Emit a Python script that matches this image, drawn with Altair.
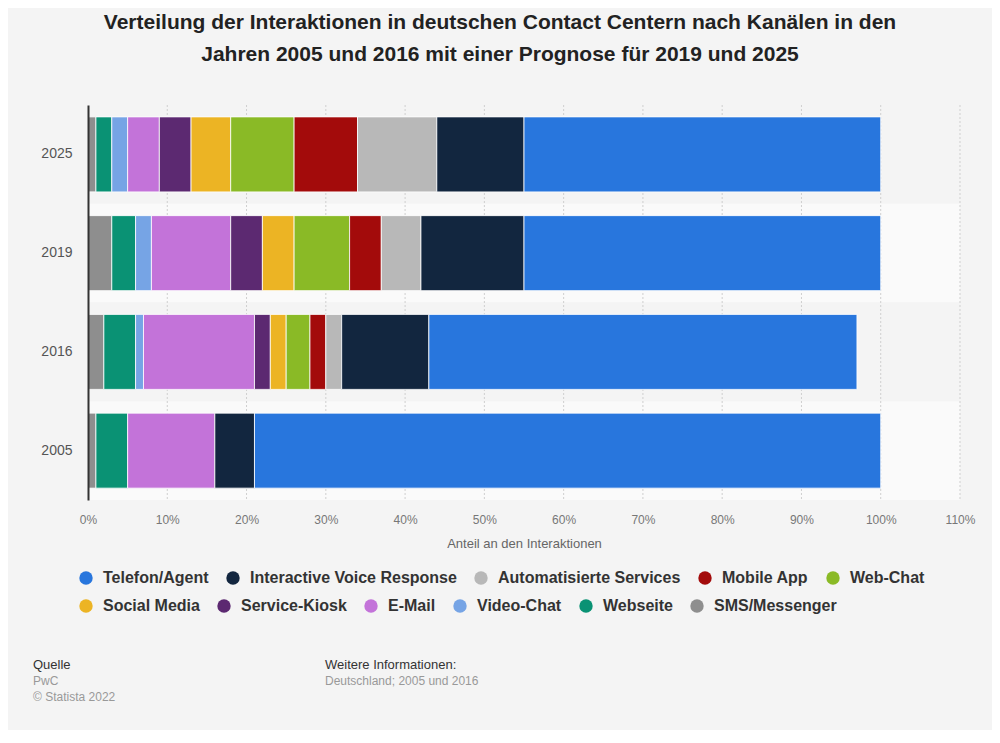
import altair as alt
import pandas as pd

years = ["2025", "2019", "2016", "2005"]
channels = ["SMS/Messenger", "Webseite", "Video-Chat", "E-Mail", "Service-Kiosk",
            "Social Media", "Web-Chat", "Mobile App", "Automatisierte Services",
            "Interactive Voice Response", "Telefon/Agent"]
v2025 = [1, 2, 2, 4, 4, 5, 8, 8, 10, 11, 45]
v2019 = [3, 3, 2, 10, 4, 4, 7, 4, 5, 13, 45]
v2016 = [2, 4, 1, 14, 2, 2, 3, 2, 2, 11, 54]
v2005 = [1, 4, 0, 11, 0, 0, 0, 0, 0, 5, 79]

legend_order = ["Telefon/Agent", "Interactive Voice Response", "Automatisierte Services",
                "Mobile App", "Web-Chat", "Social Media", "Service-Kiosk", "E-Mail",
                "Video-Chat", "Webseite", "SMS/Messenger"]
colors = ["#2876dd", "#12263f", "#b8b8b8", "#a30b0b", "#8aba26", "#ecb424",
          "#5c2971", "#c373d9", "#76a4e5", "#0a9274", "#8e8e8e"]
shades = ["#f4f4f4", "#fafafa", "#f4f4f4", "#fafafa"]
tick_values = [0, 10, 20, 30, 40, 50, 60, 70, 80, 90, 100, 110]
grid_values = [10, 20, 30, 40, 50, 60, 70, 80, 90, 100, 110]

rows = []
for y, vals in zip(years, [v2025, v2019, v2016, v2005]):
    for i, (c, v) in enumerate(zip(channels, vals)):
        if v > 0:
            rows.append({"Jahr": y, "Kanal": c, "Anteil": v, "ord": i})
df = pd.DataFrame(rows)
bands = pd.DataFrame({"Jahr": years, "shade": shades})
grid = pd.DataFrame({"g": grid_values})

W, H = 872, 395

yscale = alt.Scale(domain=years, paddingInner=0, paddingOuter=0)
xscale = alt.Scale(domain=[0, 110], nice=False)
cscale = alt.Scale(domain=legend_order, range=colors)


def legend(vals, ly):
    return alt.Legend(title=None, orient="none", legendX=-10, legendY=ly,
                      direction="horizontal", values=vals,
                      symbolType="circle", symbolSize=180, symbolStrokeWidth=0,
                      labelFontSize=16, labelFontWeight="bold",
                      labelColor="#333", labelFont="Liberation Sans",
                      labelOffset=9, columnPadding=16, labelLimit=400)


bg = alt.Chart(bands).mark_rect().encode(
    y=alt.Y("Jahr:N", scale=yscale, sort=years, title=None),
    x=alt.datum(0, scale=xscale),
    x2=alt.datum(110),
    fill=alt.Fill("shade:N", scale=None, legend=None),
)

gridlines = alt.Chart(grid).mark_rule(color="#cfcfcf", strokeDash=[2, 2], strokeWidth=1).encode(
    x=alt.X("g:Q", scale=xscale),
)

bars = alt.Chart(df).mark_bar(size=75, stroke="#ffffff", strokeWidth=1, strokeOpacity=0.8).encode(
    y=alt.Y("Jahr:N", scale=yscale, sort=years, title=None,
            axis=alt.Axis(labelFontSize=14, labelColor="#555", labelPadding=16,
                          ticks=False, domain=True, domainColor="#333", domainWidth=2,
                          labelFont="Liberation Sans")),
    x=alt.X("Anteil:Q", scale=xscale, stack="zero",
            title="Anteil an den Interaktionen",
            axis=alt.Axis(values=tick_values, labelExpr="datum.value + '%'",
                          labelFontSize=12, labelColor="#777", labelPadding=14,
                          labelFlush=False, labelOverlap=False,
                          ticks=False, domain=False, grid=False, titleFontSize=13,
                          titleColor="#666", titleFontWeight="normal", titlePadding=12,
                          labelFont="Liberation Sans", titleFont="Liberation Sans")),
    color=alt.Color("Kanal:N", scale=cscale, legend=legend(legend_order[:5], 465)),
    order=alt.Order("ord:Q", sort="ascending"),
)

legend2 = alt.Chart(df).transform_filter("datum.Anteil < 0").mark_bar().encode(
    y=alt.Y("Jahr:N", scale=yscale, sort=years, title=None),
    x=alt.X("Anteil:Q", scale=xscale),
    color=alt.Color("Kanal:N", scale=cscale, legend=legend(legend_order[5:], 493)),
)

one = alt.Data(values=[{}])

def txt(s, x, y, size, color):
    return alt.Chart(one).mark_text(text=s, align="left", baseline="middle", fontSize=size,
                                    color=color, font="Liberation Sans").encode(
        x=alt.value(x), y=alt.value(y))

footer = [
    txt("Quelle", -55, 560, 13, "#333"),
    txt("PwC", -55, 576, 12, "#999"),
    txt("© Statista 2022", -55, 592, 12, "#999"),
    txt("Weitere Informationen:", 237, 560, 13, "#333"),
    txt("Deutschland; 2005 und 2016", 237, 576, 12, "#999"),
]

chart = alt.layer(bg, gridlines, bars, legend2, *footer).resolve_scale(
    color="independent"
).properties(
    width=W, height=H,
    autosize=alt.AutoSizeParams(type="none"),
    padding={"left": 80, "top": 97, "right": 32, "bottom": 230},
    background="#f4f4f4",
    title=alt.TitleParams(
        text=["Verteilung der Interaktionen in deutschen Contact Centern nach Kanälen in den",
              "Jahren 2005 und 2016 mit einer Prognose für 2019 und 2025"],
        fontSize=21, fontWeight="bold", color="#222", font="Liberation Sans",
        anchor="middle", dx=-24, lineHeight=32, offset=40),
).configure_view(stroke=None)

chart.save("out.html", embed_options={"renderer": "svg", "actions": False})
